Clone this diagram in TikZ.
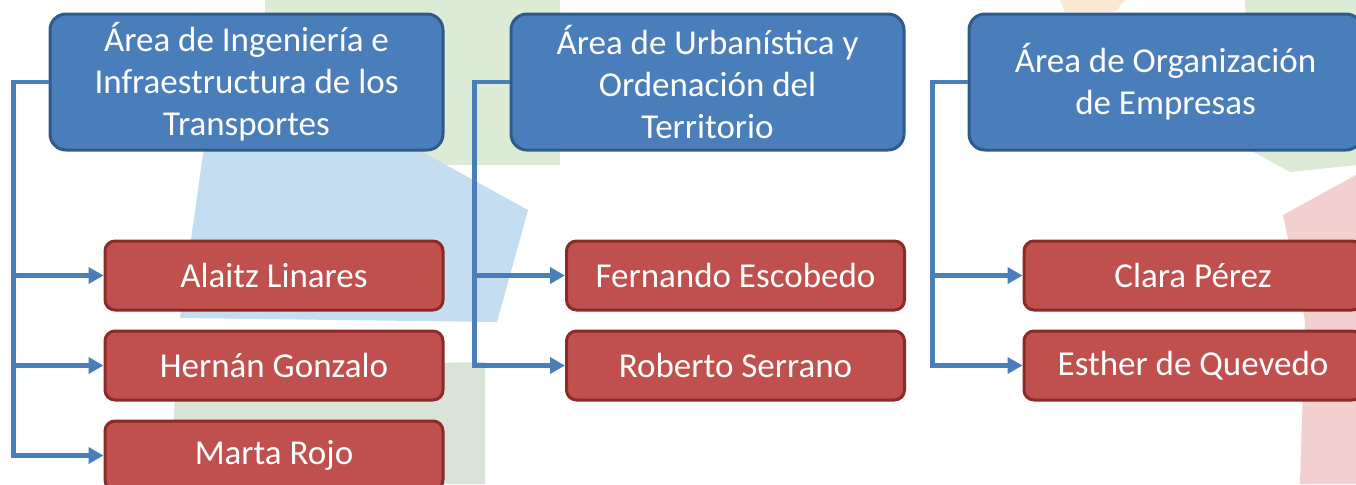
\documentclass[tikz,border=0pt]{standalone}
\usepackage{fontspec}
\setmainfont{Carlito}
\usepackage{tikz}
\usetikzlibrary{arrows.meta, positioning, calc}

\definecolor{areablue}{HTML}{4A7EBB}
\definecolor{areaedge}{HTML}{2F5A8A}
\definecolor{personred}{HTML}{C0504D}
\definecolor{personedge}{HTML}{8C2A28}
\definecolor{linkblue}{HTML}{4A7EBB}
\definecolor{wmblue}{HTML}{C4DDF0}
\definecolor{wmgreen}{HTML}{DCEBD5}
\definecolor{wmgrey}{HTML}{D9E3D7}
\definecolor{wmpink}{HTML}{F3D0D0}
\definecolor{wmorange}{HTML}{FBE8D2}

\tikzset{
  area/.style={rectangle, rounded corners=8pt, draw=areaedge, line width=1.5pt,
    fill=areablue, text=white, align=center,
    minimum width=196.5pt, minimum height=68pt, inner sep=0pt,
    font=\fontsize{17.5}{21}\selectfont},
  person/.style={rectangle, rounded corners=5pt, draw=personedge, line width=1.5pt,
    fill=personred, text=white, align=center,
    minimum width=169pt, minimum height=34.5pt, inner sep=0pt,
    font=\fontsize{17.5}{21}\selectfont},
  link/.style={draw=linkblue, line width=2.2pt, -{Triangle[length=7.5pt,width=8pt]}}
}

\begin{document}
\begin{tikzpicture}[x=0.5pt,y=-0.5pt,>=latex]

\useasboundingbox (0,0) rectangle (1356,484);
\clip (0,0) rectangle (1356,484);

% Faint logo in the background
\fill[wmgreen] (265,0) -- (560,0) -- (560,165) -- (265,165) -- cycle;
\fill[wmblue] (205,140) -- (415,148) -- (528,210) -- (497,322) -- (180,318) -- cycle;
\fill[wmgrey] (175,395) -- (330,365) -- (485,362) -- (485,484) -- (170,484) -- cycle;
\fill[wmgreen] (1245,0) -- (1356,0) -- (1356,165) -- (1290,172) -- (1250,150) -- cycle;
\fill[wmpink] (1283,215) -- (1356,175) -- (1356,484) -- (1300,484) -- (1305,320) -- cycle;
\fill[wmorange] (1060,0) -- (1125,0) -- (1115,12) -- (1065,12) -- cycle;

% Areas
\node[area] (ing) at (246.5,82) {Área de Ingeniería e\\Infraestructura de los\\Transportes};
\node[area] (urb) at (707.5,82) {Área de Urbanística y\\Ordenación del\\Territorio};
\node[area] (org) at (1165.5,82) {Área de Organización\\de Empresas};

% People
\node[person] (alaitz) at (274,275.5) {Alaitz Linares};
\node[person, below=9pt of alaitz] (hernan) {Hernán Gonzalo};
\node[person, below=9pt of hernan] (marta) {Marta Rojo};

\node[person] (fernando) at (735.5,275.5) {Fernando Escobedo};
\node[person, below=9pt of fernando] (roberto) {Roberto Serrano};

\node[person] (clara) at (1193,275.5) {Clara Pérez};
\node[person, below=9pt of clara] (esther) {Esther de Quevedo};

% Links
\foreach \p in {alaitz, hernan, marta}
  \draw[link] (ing.west) -- ++(-17.5pt,0) |- (\p.west);
\foreach \p in {fernando, roberto}
  \draw[link] (urb.west) -- ++(-17.5pt,0) |- (\p.west);
\foreach \p in {clara, esther}
  \draw[link] (org.west) -- ++(-17.5pt,0) |- (\p.west);

\end{tikzpicture}
\end{document}
